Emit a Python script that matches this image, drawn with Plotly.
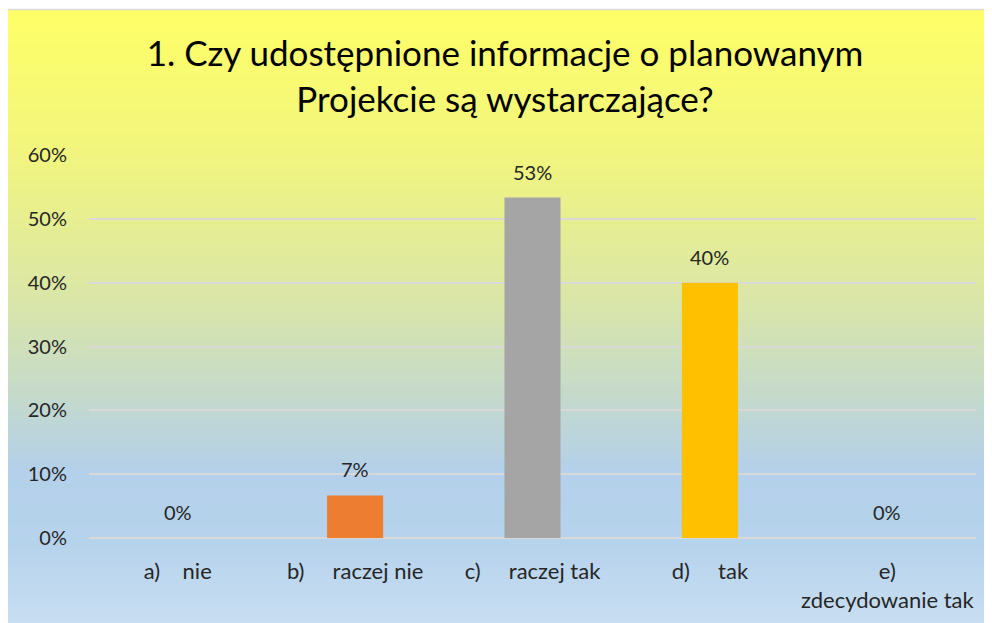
import plotly.graph_objects as go

categories = ["a)\u00a0\u00a0\u00a0\u00a0nie",
              "b)\u00a0\u00a0\u00a0\u00a0\u00a0raczej nie",
              "c)\u00a0\u00a0\u00a0\u00a0\u00a0raczej tak",
              "d)\u00a0\u00a0\u00a0\u00a0\u00a0tak",
              "e)<br>zdecydowanie tak"]
values = [0.0, 0.0667, 0.5333, 0.40, 0.0]
value_labels = ["0%", "7%", "53%", "40%", "0%"]
bar_colors = ["#4472C4", "#ED7D31", "#A5A5A5", "#FFC000", "#5B9BD5"]
title_text = "1. Czy udostępnione informacje o planowanym<br>Projekcie są wystarczające?"

# page has an 8px body margin; work in page pixel coordinates and subtract it
OFF = 8
W, H = 992 - OFF, 623 - OFF
L = 89 - OFF
R = 992 - 976
T = 155 - OFF
B = 623 - 538

PW, PH = W - L - R, H - T - B


def px_x(page_px):
    return (page_px - OFF - L) / PW


def px_y(page_py):
    return (H - B - (page_py - OFF)) / PH


# background gradient (styling), page pixel y -> colour
stops = [(8, (255, 255, 102)), (155, (241, 245, 126)), (300, (218, 230, 168)),
         (400, (196, 217, 205)), (470, (180, 208, 234)), (545, (182, 211, 236)),
         (623, (200, 222, 242))]


def color_at(py):
    for (y0, c0), (y1, c1) in zip(stops[:-1], stops[1:]):
        if y0 <= py <= y1:
            t = (py - y0) / (y1 - y0)
            c = [round(a + (b - a) * t) for a, b in zip(c0, c1)]
            return "rgb(%d,%d,%d)" % tuple(c)
    return "rgb(%d,%d,%d)" % stops[-1][1]


shapes = []
step = 3
py = 9
while py < 626:
    shapes.append(dict(type="rect", xref="paper", yref="paper", layer="below",
                       x0=px_x(7), x1=px_x(1000),
                       y0=px_y(py + step + 1), y1=px_y(py),
                       fillcolor=color_at(py + step / 2), line=dict(width=0)))
    py += step
shapes.append(dict(type="line", xref="paper", yref="paper", layer="below",
                   x0=px_x(7), x1=px_x(1000), y0=px_y(9.5), y1=px_y(9.5),
                   line=dict(color="#D9D9D9", width=1.5)))

font_family = "Lato, 'Open Sans', sans-serif"

fig = go.Figure()
fig.add_trace(go.Bar(x=categories, y=values, marker=dict(color=bar_colors, line=dict(width=0)),
                     showlegend=False, hoverinfo="skip"))

annotations = []
for c, v, lab in zip(categories, values, value_labels):
    annotations.append(dict(x=c, y=v, xref="x", yref="y", text=lab, showarrow=False,
                            yanchor="middle", yshift=26,
                            font=dict(family=font_family, size=20, color="#262626")))

fig.update_layout(
    width=W, height=H,
    margin=dict(l=L, r=R, t=T, b=B, pad=0, autoexpand=False),
    paper_bgcolor="white",
    plot_bgcolor="rgba(0,0,0,0)",
    shapes=shapes,
    annotations=annotations,
    bargap=0.684,
    title=dict(text=title_text, x=(505 - OFF) / W, xanchor="center", xref="container",
               y=1 - (66 - OFF) / H, yanchor="middle", yref="container",
               font=dict(family=font_family, size=35, color="#000000")),
    font=dict(family=font_family, size=20, color="#262626"),
    xaxis=dict(showgrid=False, showline=False, zeroline=False, ticks="",
               tickfont=dict(family=font_family, size=22, color="#262626"),
               ticklabelstandoff=18, automargin=False, fixedrange=True),
    yaxis=dict(range=[0, 0.6], dtick=0.1, tickformat=".0%", showgrid=True,
               gridcolor="#D9D9D9", gridwidth=2, zeroline=True, zerolinecolor="#D9D9D9",
               zerolinewidth=2, showline=False, ticks="",
               tickfont=dict(family=font_family, size=20, color="#262626"),
               ticklabelstandoff=21, automargin=False, fixedrange=True),
)

fig.write_html("out.html")
